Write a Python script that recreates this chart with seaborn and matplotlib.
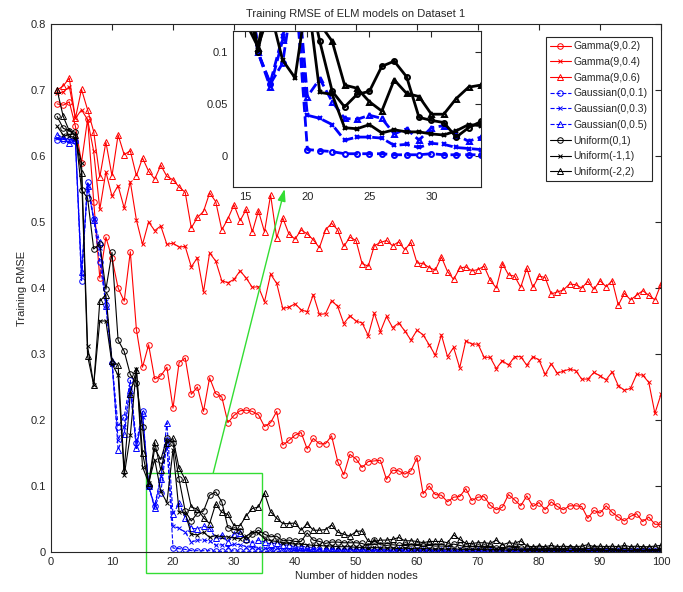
import numpy as np
import pandas as pd
import matplotlib
matplotlib.use("Agg")
import matplotlib.pyplot as plt
import seaborn as sns
from matplotlib.patches import Rectangle

# -----------------------------
# Data
# -----------------------------
nodes = np.arange(1, 101)

gamma_02 = [
    0.679, 0.677, 0.682, 0.645, 0.590, 0.656, 0.531, 0.415, 0.477, 0.445,
    0.400, 0.380, 0.455, 0.337, 0.280, 0.314, 0.262, 0.267, 0.280, 0.218,
    0.287, 0.294, 0.239, 0.250, 0.213, 0.264, 0.240, 0.235, 0.196, 0.207,
    0.214, 0.215, 0.213, 0.208, 0.190, 0.196, 0.213, 0.162, 0.169, 0.177,
    0.181, 0.156, 0.172, 0.164, 0.164, 0.176, 0.137, 0.117, 0.148, 0.141,
    0.128, 0.137, 0.138, 0.139, 0.110, 0.124, 0.123, 0.118, 0.123, 0.143,
    0.088, 0.100, 0.087, 0.086, 0.076, 0.083, 0.084, 0.096, 0.078, 0.083,
    0.084, 0.071, 0.064, 0.068, 0.087, 0.079, 0.070, 0.085, 0.069, 0.075,
    0.064, 0.076, 0.069, 0.064, 0.070, 0.070, 0.069, 0.051, 0.063, 0.059,
    0.070, 0.060, 0.053, 0.047, 0.054, 0.058, 0.046, 0.053, 0.042, 0.042]

gamma_04 = [
    0.695, 0.697, 0.705, 0.657, 0.670, 0.655, 0.607, 0.519, 0.576, 0.539,
    0.555, 0.521, 0.561, 0.503, 0.466, 0.500, 0.487, 0.494, 0.466, 0.468,
    0.462, 0.463, 0.432, 0.446, 0.394, 0.453, 0.441, 0.411, 0.408, 0.413,
    0.426, 0.415, 0.401, 0.402, 0.379, 0.421, 0.407, 0.369, 0.371, 0.376,
    0.367, 0.364, 0.390, 0.360, 0.361, 0.381, 0.372, 0.346, 0.358, 0.350,
    0.347, 0.328, 0.362, 0.334, 0.357, 0.340, 0.347, 0.335, 0.321, 0.336,
    0.329, 0.314, 0.298, 0.329, 0.296, 0.310, 0.279, 0.320, 0.315, 0.315,
    0.295, 0.295, 0.278, 0.290, 0.283, 0.296, 0.296, 0.283, 0.296, 0.291,
    0.269, 0.285, 0.271, 0.274, 0.277, 0.275, 0.262, 0.262, 0.272, 0.267,
    0.261, 0.273, 0.252, 0.245, 0.248, 0.269, 0.268, 0.257, 0.210, 0.239]

gamma_06 = [
    0.700, 0.706, 0.718, 0.657, 0.701, 0.670, 0.637, 0.568, 0.621, 0.570,
    0.632, 0.602, 0.608, 0.570, 0.597, 0.577, 0.565, 0.586, 0.569, 0.564,
    0.553, 0.545, 0.491, 0.507, 0.516, 0.544, 0.531, 0.488, 0.505, 0.526,
    0.502, 0.519, 0.485, 0.517, 0.485, 0.541, 0.476, 0.506, 0.482, 0.474,
    0.488, 0.482, 0.473, 0.461, 0.488, 0.498, 0.488, 0.463, 0.477, 0.472,
    0.437, 0.433, 0.464, 0.469, 0.472, 0.464, 0.470, 0.458, 0.469, 0.438,
    0.437, 0.431, 0.427, 0.447, 0.425, 0.413, 0.430, 0.432, 0.426, 0.428,
    0.433, 0.412, 0.400, 0.437, 0.420, 0.418, 0.401, 0.430, 0.401, 0.418,
    0.416, 0.391, 0.394, 0.397, 0.406, 0.405, 0.400, 0.410, 0.398, 0.411,
    0.402, 0.411, 0.374, 0.392, 0.382, 0.389, 0.396, 0.389, 0.382, 0.406]

gauss_01 = [
    0.625, 0.625, 0.625, 0.622, 0.410, 0.561, 0.505, 0.440, 0.375, 0.287,
    0.190, 0.205, 0.260, 0.165, 0.213, 0.100, 0.069, 0.089, 0.169, 0.006,
    0.005, 0.004, 0.002, 0.002, 0.002, 0.002, 0.001, 0.001, 0.001, 0.002,
    0.001, 0.001, 0.001, 0.001, 0.001, 0.001, 0.001, 0.001, 0.001, 0.001,
    0.001, 0.001, 0.001, 0.001, 0.001, 0.001, 0.001, 0.001, 0.001, 0.001,
    0.001, 0.001, 0.001, 0.001, 0.001, 0.001, 0.001, 0.001, 0.001, 0.001,
    0.001, 0.001, 0.001, 0.001, 0.001, 0.001, 0.001, 0.001, 0.001, 0.001,
    0.001, 0.001, 0.001, 0.001, 0.001, 0.001, 0.001, 0.001, 0.001, 0.001,
    0.001, 0.001, 0.001, 0.001, 0.001, 0.001, 0.001, 0.001, 0.001, 0.001,
    0.001, 0.001, 0.001, 0.001, 0.001, 0.001, 0.001, 0.001, 0.001, 0.001]

gauss_03 = [
    0.627, 0.627, 0.625, 0.625, 0.420, 0.555, 0.505, 0.460, 0.380, 0.285,
    0.170, 0.190, 0.250, 0.160, 0.205, 0.100, 0.070, 0.115, 0.160, 0.039,
    0.036, 0.030, 0.015, 0.018, 0.018, 0.017, 0.010, 0.011, 0.008, 0.012,
    0.011, 0.008, 0.007, 0.006, 0.006, 0.005, 0.006, 0.005, 0.005, 0.004,
    0.005, 0.004, 0.004, 0.004, 0.003, 0.004, 0.003, 0.003, 0.004, 0.003,
    0.003, 0.003, 0.002, 0.003, 0.003, 0.002, 0.003, 0.002, 0.002, 0.003,
    0.002, 0.002, 0.002, 0.002, 0.003, 0.002, 0.002, 0.002, 0.002, 0.002,
    0.002, 0.002, 0.002, 0.002, 0.002, 0.002, 0.002, 0.002, 0.002, 0.002,
    0.002, 0.002, 0.002, 0.002, 0.002, 0.002, 0.002, 0.002, 0.002, 0.002,
    0.002, 0.002, 0.002, 0.002, 0.002, 0.002, 0.002, 0.002, 0.002, 0.002]

gauss_05 = [
    0.632, 0.628, 0.620, 0.624, 0.425, 0.555, 0.503, 0.470, 0.372, 0.290,
    0.155, 0.179, 0.246, 0.157, 0.210, 0.100, 0.066, 0.111, 0.196, 0.057,
    0.074, 0.052, 0.036, 0.035, 0.039, 0.036, 0.021, 0.026, 0.015, 0.027,
    0.029, 0.020, 0.014, 0.018, 0.015, 0.012, 0.014, 0.010, 0.011, 0.007,
    0.008, 0.008, 0.006, 0.005, 0.005, 0.006, 0.005, 0.004, 0.005, 0.004,
    0.004, 0.004, 0.003, 0.004, 0.003, 0.003, 0.004, 0.003, 0.003, 0.003,
    0.003, 0.003, 0.002, 0.003, 0.003, 0.002, 0.003, 0.002, 0.002, 0.003,
    0.002, 0.002, 0.002, 0.002, 0.002, 0.002, 0.002, 0.002, 0.002, 0.002,
    0.002, 0.002, 0.002, 0.002, 0.002, 0.002, 0.002, 0.002, 0.002, 0.002,
    0.002, 0.002, 0.002, 0.002, 0.002, 0.002, 0.002, 0.002, 0.002, 0.002]

unif_01 = [
    0.660, 0.642, 0.638, 0.636, 0.549, 0.536, 0.459, 0.467, 0.398, 0.454,
    0.321, 0.304, 0.269, 0.256, 0.190, 0.100, 0.157, 0.140, 0.172, 0.165,
    0.110, 0.062, 0.047, 0.059, 0.062, 0.086, 0.091, 0.076, 0.037, 0.034,
    0.032, 0.018, 0.027, 0.033, 0.027, 0.023, 0.024, 0.017, 0.018, 0.016,
    0.016, 0.029, 0.018, 0.016, 0.013, 0.015, 0.015, 0.014, 0.014, 0.014,
    0.013, 0.009, 0.018, 0.011, 0.010, 0.011, 0.010, 0.010, 0.009, 0.010,
    0.009, 0.010, 0.009, 0.009, 0.009, 0.012, 0.010, 0.008, 0.008, 0.008,
    0.007, 0.007, 0.006, 0.007, 0.006, 0.007, 0.006, 0.006, 0.005, 0.006,
    0.005, 0.006, 0.005, 0.005, 0.006, 0.005, 0.005, 0.005, 0.006, 0.005,
    0.005, 0.005, 0.004, 0.005, 0.005, 0.004, 0.005, 0.004, 0.004, 0.004]

unif_m11 = [
    0.645, 0.632, 0.630, 0.628, 0.590, 0.312, 0.253, 0.350, 0.350, 0.285,
    0.268, 0.116, 0.177, 0.278, 0.129, 0.105, 0.140, 0.092, 0.075, 0.155,
    0.061, 0.059, 0.027, 0.026, 0.030, 0.022, 0.025, 0.023, 0.023, 0.021,
    0.020, 0.024, 0.030, 0.029, 0.020, 0.017, 0.016, 0.014, 0.013, 0.012,
    0.012, 0.011, 0.010, 0.010, 0.009, 0.009, 0.008, 0.008, 0.008, 0.007,
    0.007, 0.006, 0.007, 0.006, 0.006, 0.006, 0.005, 0.006, 0.005, 0.005,
    0.005, 0.005, 0.004, 0.005, 0.004, 0.005, 0.004, 0.004, 0.004, 0.004,
    0.004, 0.003, 0.004, 0.003, 0.003, 0.004, 0.003, 0.003, 0.003, 0.003,
    0.003, 0.003, 0.003, 0.003, 0.002, 0.003, 0.003, 0.002, 0.003, 0.002,
    0.002, 0.003, 0.002, 0.002, 0.002, 0.002, 0.002, 0.002, 0.002, 0.002]

unif_m22 = [
    0.700, 0.660, 0.638, 0.632, 0.575, 0.297, 0.253, 0.380, 0.390, 0.290,
    0.283, 0.124, 0.240, 0.276, 0.150, 0.104, 0.166, 0.124, 0.165, 0.172,
    0.127, 0.110, 0.068, 0.065, 0.052, 0.043, 0.073, 0.060, 0.057, 0.040,
    0.040, 0.055, 0.066, 0.068, 0.089, 0.061, 0.051, 0.043, 0.043, 0.044,
    0.033, 0.043, 0.033, 0.033, 0.034, 0.041, 0.030, 0.027, 0.024, 0.031,
    0.032, 0.016, 0.016, 0.018, 0.018, 0.019, 0.022, 0.017, 0.017, 0.016,
    0.014, 0.016, 0.016, 0.016, 0.014, 0.026, 0.019, 0.013, 0.013, 0.014,
    0.014, 0.013, 0.018, 0.011, 0.014, 0.013, 0.017, 0.009, 0.008, 0.009,
    0.008, 0.010, 0.008, 0.009, 0.008, 0.008, 0.009, 0.011, 0.008, 0.009,
    0.008, 0.009, 0.008, 0.010, 0.008, 0.009, 0.008, 0.008, 0.009, 0.010]

labels = ["Gamma(9,0.2)", "Gamma(9,0.4)", "Gamma(9,0.6)",
          "Gaussian(0,0.1)", "Gaussian(0,0.3)", "Gaussian(0,0.5)",
          "Uniform(0,1)", "Uniform(-1,1)", "Uniform(-2,2)"]
values = [gamma_02, gamma_04, gamma_06, gauss_01, gauss_03, gauss_05,
          unif_01, unif_m11, unif_m22]
colors = ["#ff0000"] * 3 + ["#0000ff"] * 3 + ["#000000"] * 3
markers = ["o", "x", "^"] * 3
styles = ["-"] * 3 + ["--"] * 3 + ["-"] * 3

df = pd.DataFrame({"nodes": nodes})
for lab, v in zip(labels, values):
    df[lab] = v

# -----------------------------
# Style
# -----------------------------
sns.set_style("white")
plt.rcParams["font.family"] = ["Liberation Sans", "DejaVu Sans"]
plt.rcParams["xtick.direction"] = "in"
plt.rcParams["ytick.direction"] = "in"

fig = plt.figure(figsize=(6.83, 5.92), dpi=100)
ax = fig.add_axes([51 / 683, 40 / 592, 610 / 683, 528 / 592])

# -----------------------------
# Main plot
# -----------------------------
for lab, c, m, ls in zip(labels, colors, markers, styles):
    sns.lineplot(data=df, x="nodes", y=lab, ax=ax, color=c, marker=m,
                 linestyle=ls, linewidth=0.8, markersize=4 if m != "x" else 3.5,
                 markeredgecolor=c, markerfacecolor="none",
                 markeredgewidth=0.7, errorbar=None, legend=False, label=lab)

ax.set_xlim(0, 100)
ax.set_ylim(0, 0.8)
ax.set_xticks(range(0, 101, 10))
ax.set_yticks(np.arange(0, 0.81, 0.1))
ax.set_yticklabels(["0", "0.1", "0.2", "0.3", "0.4", "0.5", "0.6", "0.7", "0.8"])
ax.tick_params(labelsize=8, top=True, right=True, length=4, width=0.8,
               colors="#262626")
for s in ax.spines.values():
    s.set_linewidth(0.8)
    s.set_color("#262626")
ax.set_xlabel("Number of hidden nodes", fontsize=8, labelpad=3)
ax.set_ylabel("Training RMSE", fontsize=8, labelpad=3)
ax.set_title("Training RMSE of ELM models on Dataset 1", fontsize=8, pad=5)

leg = ax.legend(loc="upper right", bbox_to_anchor=(652 / 683, 1 - 37 / 592),
                bbox_transform=fig.transFigure, borderaxespad=0,
                fontsize=7.5, fancybox=False, edgecolor="#262626",
                framealpha=1, handlelength=2.0, handletextpad=0.3,
                labelspacing=0.55, borderpad=0.4)
leg.get_frame().set_linewidth(0.8)

# zoom box and arrow
green = "#33dd33"
ax.add_patch(Rectangle((15.5, -0.032), 19.1, 0.152, fill=False,
                       edgecolor=green, linewidth=1, clip_on=False))
ax.annotate("", xy=(38.3, 0.55), xytext=(26.6, 0.12),
            arrowprops=dict(arrowstyle="-|>,head_length=0.6,head_width=0.2",
                            color=green, lw=1,
                            mutation_scale=12, shrinkA=0, shrinkB=0),
            annotation_clip=False)

# -----------------------------
# Inset
# -----------------------------
axin = fig.add_axes([233 / 683, 1 - 187 / 592, 248 / 683, 156 / 592])
for lab, c, m, ls in zip(labels, colors, markers, styles):
    sns.lineplot(data=df, x="nodes", y=lab, ax=axin, color=c, marker=m,
                 linestyle=ls, linewidth=2, markersize=3.5,
                 markeredgecolor=c, markerfacecolor="none",
                 markeredgewidth=1.5, errorbar=None, legend=False)

axin.set_xlim(14, 34)
axin.set_ylim(-0.03, 0.12)
axin.set_xticks([15, 20, 25, 30])
axin.set_yticks([0, 0.05, 0.1])
axin.set_yticklabels(["0", "0.05", "0.1"])
axin.set_xlabel("")
axin.set_ylabel("")
axin.tick_params(labelsize=8, top=True, right=True, length=4, width=0.8,
                 colors="#262626")
for s in axin.spines.values():
    s.set_linewidth(0.8)
    s.set_color("#262626")

plt.savefig("out.png", dpi=100)
